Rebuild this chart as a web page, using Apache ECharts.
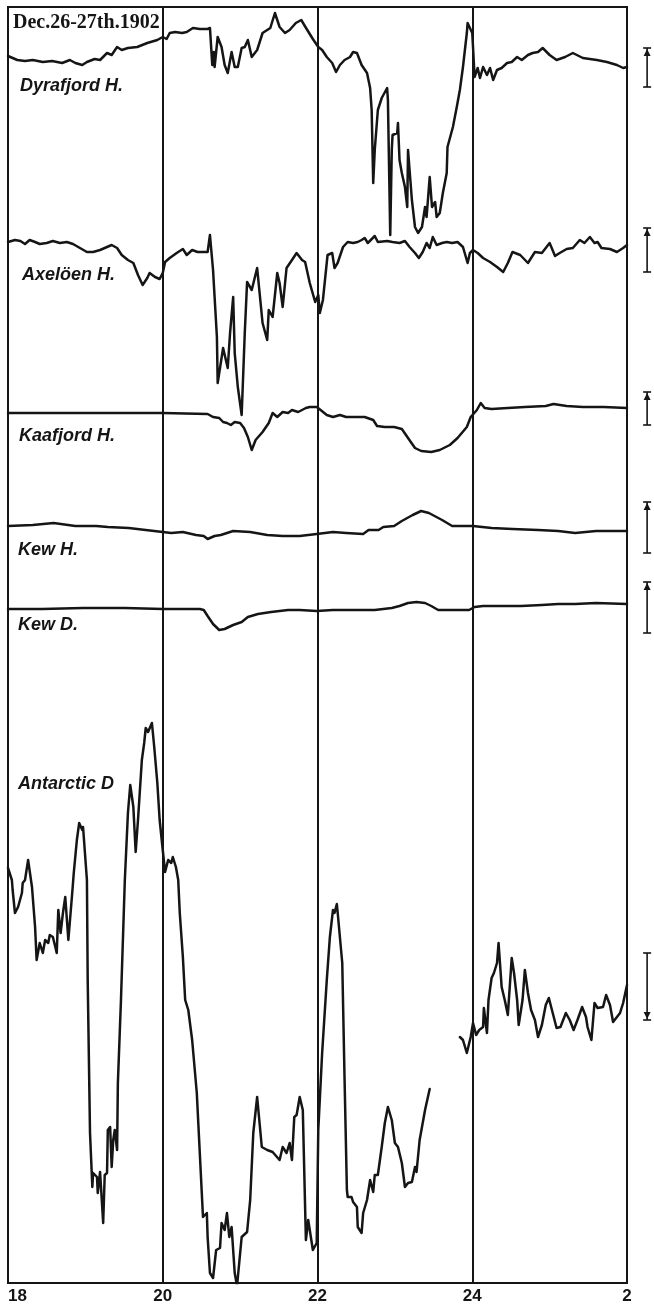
<!DOCTYPE html>
<html>
<head>
<meta charset="utf-8">
<script src="https://cdn.jsdelivr.net/npm/echarts@6/dist/echarts.min.js"></script>
<style>
html,body{margin:0;padding:0;background:#fff;}
#chart{width:654px;height:1306px;}
</style>
</head>
<body>
<div id="chart"></div>
<script>
// Time axis: hours (18 .. 26, where 26 is labelled "2")
const hourTicks = [18, 20, 22, 24, 26];
const hourLabels = ['18', '20', '22', '24', '2'];

// Trace readings: [hour, trace position in plot units (downward scale)]
const dyrafjordH = [
[18.00,56],[18.12,60],[18.22,61],[18.32,60],[18.45,62],[18.57,61],[18.70,63],[18.80,60],[18.87,63],[18.96,65],[19.02,62],[19.12,59],[19.19,60],[19.28,53],[19.34,55],[19.41,47],[19.47,50],[19.55,48],[19.67,47],[19.80,43],[19.93,40],[20.00,37],[20.05,39],[20.09,33],[20.16,32],[20.25,33],[20.31,32],[20.39,28],[20.48,29],[20.58,29],[20.61,28],[20.64,65],[20.66,52],[20.67,67],[20.71,37],[20.76,47],[20.80,65],[20.84,73],[20.89,52],[20.93,67],[20.97,67],[21.02,48],[21.06,47],[21.10,40],[21.15,57],[21.22,50],[21.29,33],[21.39,28],[21.45,13],[21.51,27],[21.58,33],[21.64,30],[21.72,23],[21.79,20],[21.86,29],[21.94,39],[22.01,47],[22.06,50],[22.12,57],[22.19,63],[22.24,72],[22.29,65],[22.35,60],[22.42,57],[22.46,52],[22.51,53],[22.57,65],[22.64,73],[22.68,88],[22.70,110],[22.72,183],[22.74,150],[22.78,110],[22.83,98],[22.90,88],[22.91,100],[22.94,235],[22.96,150],[22.97,135],[23.03,133],[23.04,123],[23.06,160],[23.09,173],[23.13,187],[23.16,207],[23.17,150],[23.22,200],[23.26,227],[23.30,233],[23.35,227],[23.39,207],[23.41,217],[23.45,177],[23.48,207],[23.52,202],[23.54,217],[23.58,213],[23.62,193],[23.67,173],[23.68,147],[23.75,127],[23.80,107],[23.84,90],[23.88,67],[23.93,33],[23.94,23],[24.00,33],[24.01,47],[24.03,77],[24.07,68],[24.10,78],[24.14,67],[24.19,75],[24.23,68],[24.27,80],[24.32,70],[24.38,68],[24.45,63],[24.51,62],[24.58,57],[24.64,60],[24.72,55],[24.78,53],[24.85,52],[24.91,48],[25.00,55],[25.09,60],[25.20,57],[25.30,53],[25.43,58],[25.61,60],[25.74,62],[25.87,65],[25.95,68],[26.00,67]
];

const axeloenH = [
[18.00,242],[18.09,240],[18.16,241],[18.22,244],[18.28,240],[18.35,242],[18.41,244],[18.50,243],[18.58,241],[18.67,243],[18.76,242],[18.84,244],[18.93,248],[19.02,252],[19.10,252],[19.19,250],[19.28,247],[19.34,245],[19.41,248],[19.47,255],[19.55,260],[19.62,263],[19.68,275],[19.74,285],[19.80,278],[19.83,273],[19.90,277],[19.96,279],[20.00,273],[20.03,262],[20.09,258],[20.18,253],[20.26,249],[20.31,255],[20.38,250],[20.45,252],[20.55,252],[20.58,252],[20.61,235],[20.65,270],[20.70,337],[20.71,383],[20.78,348],[20.84,368],[20.87,333],[20.91,297],[20.93,353],[20.97,387],[21.02,415],[21.06,333],[21.09,282],[21.15,290],[21.22,268],[21.29,323],[21.35,340],[21.37,310],[21.42,317],[21.48,273],[21.51,283],[21.55,307],[21.60,268],[21.67,260],[21.73,253],[21.80,260],[21.84,262],[21.90,283],[21.97,302],[22.01,295],[22.03,313],[22.07,300],[22.13,255],[22.19,253],[22.22,268],[22.26,263],[22.33,247],[22.39,242],[22.46,243],[22.52,242],[22.57,240],[22.61,238],[22.65,243],[22.74,236],[22.78,242],[22.90,241],[22.97,242],[23.06,243],[23.13,241],[23.19,247],[23.26,253],[23.31,258],[23.36,252],[23.41,243],[23.45,248],[23.49,237],[23.54,245],[23.61,243],[23.67,242],[23.74,243],[23.81,242],[23.88,247],[23.94,263],[23.97,253],[24.01,250],[24.07,253],[24.14,258],[24.23,262],[24.32,267],[24.40,272],[24.46,263],[24.52,252],[24.62,255],[24.72,263],[24.81,252],[24.90,253],[25.00,243],[25.07,256],[25.13,253],[25.22,249],[25.30,248],[25.39,240],[25.45,243],[25.52,237],[25.58,243],[25.62,242],[25.67,248],[25.78,249],[25.87,252],[25.95,248],[26.00,245]
];

const kaafjordH = [
[18.00,413],[18.59,413],[19.29,413],[20.00,413],[20.58,414],[20.65,417],[20.73,418],[20.78,422],[20.83,423],[20.88,425],[20.93,422],[21.00,423],[21.05,428],[21.10,437],[21.15,450],[21.20,440],[21.29,432],[21.37,423],[21.42,413],[21.48,417],[21.55,412],[21.62,413],[21.67,410],[21.75,412],[21.85,408],[21.90,407],[21.99,407],[22.04,410],[22.12,415],[22.20,417],[22.29,415],[22.37,417],[22.44,417],[22.61,417],[22.72,420],[22.77,426],[22.87,427],[22.99,427],[23.09,429],[23.17,438],[23.26,448],[23.34,451],[23.47,452],[23.58,450],[23.71,445],[23.81,438],[23.93,427],[23.98,417],[24.06,410],[24.11,403],[24.16,408],[24.25,409],[24.46,408],[24.68,407],[24.95,406],[25.05,404],[25.22,406],[25.43,407],[25.70,407],[26.00,408]
];

const kewH = [
[18.00,526],[18.32,525],[18.59,523],[18.87,526],[19.14,526],[19.29,527],[19.56,528],[19.78,530],[20.00,532],[20.11,533],[20.26,532],[20.43,535],[20.53,536],[20.58,539],[20.67,536],[20.75,535],[20.91,531],[21.13,532],[21.35,535],[21.55,536],[21.77,536],[21.99,534],[22.20,532],[22.37,533],[22.59,534],[22.66,530],[22.79,530],[22.85,527],[22.99,526],[23.09,521],[23.23,515],[23.34,511],[23.44,513],[23.61,520],[23.74,526],[23.88,526],[24.01,526],[24.25,528],[24.52,529],[24.85,530],[25.11,531],[25.33,533],[25.60,531],[26.00,531]
];

const kewD = [
[18.00,609],[18.44,609],[18.97,608],[19.51,608],[20.00,609],[20.48,609],[20.53,610],[20.58,616],[20.65,624],[20.73,630],[20.80,629],[20.91,625],[21.02,622],[21.10,617],[21.23,614],[21.40,612],[21.62,610],[21.77,610],[21.99,611],[22.20,610],[22.47,610],[22.74,610],[22.96,608],[23.06,606],[23.17,603],[23.28,602],[23.39,603],[23.47,606],[23.56,610],[23.66,610],[23.81,610],[23.96,610],[24.03,607],[24.14,606],[24.36,606],[24.63,606],[24.90,605],[25.11,604],[25.33,604],[25.60,603],[26.00,604]
];

const antarcticD1 = [
[18.00,868],[18.05,880],[18.06,890],[18.09,913],[18.13,907],[18.18,893],[18.19,883],[18.22,880],[18.26,860],[18.31,887],[18.35,927],[18.37,960],[18.41,943],[18.45,953],[18.48,940],[18.52,943],[18.54,935],[18.58,937],[18.63,953],[18.65,910],[18.68,933],[18.71,913],[18.74,897],[18.78,940],[18.83,893],[18.85,873],[18.89,840],[18.92,823],[18.96,830],[18.97,827],[19.02,880],[19.03,980],[19.06,1133],[19.09,1187],[19.10,1173],[19.15,1177],[19.16,1193],[19.19,1172],[19.23,1223],[19.25,1175],[19.28,1173],[19.29,1130],[19.32,1127],[19.34,1167],[19.36,1140],[19.38,1130],[19.41,1150],[19.42,1083],[19.46,1000],[19.51,880],[19.55,813],[19.58,785],[19.62,807],[19.65,852],[19.68,820],[19.73,760],[19.76,743],[19.78,728],[19.81,732],[19.86,723],[19.89,747],[19.93,783],[19.96,820],[20.00,850],[20.03,872],[20.07,860],[20.11,863],[20.13,857],[20.17,867],[20.20,880],[20.22,913],[20.26,957],[20.29,1000],[20.33,1010],[20.38,1040],[20.44,1093],[20.52,1217],[20.57,1213],[20.58,1237],[20.61,1273],[20.65,1278],[20.69,1250],[20.74,1248],[20.76,1223],[20.80,1230],[20.83,1213],[20.86,1237],[20.89,1227],[20.93,1273],[20.96,1286],[20.98,1286],[21.02,1237],[21.09,1232],[21.13,1200],[21.17,1133],[21.22,1097],[21.28,1147],[21.35,1150],[21.42,1152],[21.51,1160],[21.55,1147],[21.60,1153],[21.64,1143],[21.67,1160],[21.70,1117],[21.73,1115],[21.77,1097],[21.81,1110],[21.85,1240],[21.88,1220],[21.94,1250],[21.99,1243],[22.01,1130],[22.06,1053],[22.12,980],[22.16,937],[22.20,910],[22.22,913],[22.25,904],[22.26,912],[22.32,963],[22.35,1080],[22.38,1190],[22.39,1197],[22.44,1197],[22.46,1202],[22.51,1207],[22.52,1227],[22.57,1233],[22.59,1213],[22.64,1200],[22.68,1180],[22.72,1192],[22.74,1175],[22.78,1175],[22.83,1147],[22.87,1123],[22.91,1107],[22.96,1120],[23.00,1143],[23.04,1147],[23.09,1163],[23.13,1187],[23.17,1183],[23.22,1182],[23.26,1167],[23.28,1172],[23.32,1140],[23.39,1110],[23.45,1089]
];

const antarcticD2 = [
[23.84,1037],[23.88,1040],[23.93,1053],[23.98,1037],[24.01,1023],[24.05,1035],[24.09,1030],[24.14,1027],[24.15,1008],[24.19,1033],[24.21,1000],[24.25,978],[24.28,973],[24.32,963],[24.34,943],[24.38,987],[24.42,1000],[24.46,1015],[24.51,958],[24.54,973],[24.58,1000],[24.60,1025],[24.65,1000],[24.68,970],[24.72,993],[24.76,1010],[24.81,1020],[24.85,1037],[24.90,1025],[24.95,1005],[24.99,998],[25.04,1013],[25.09,1028],[25.14,1027],[25.21,1013],[25.26,1020],[25.31,1030],[25.36,1020],[25.42,1007],[25.47,1017],[25.49,1027],[25.54,1040],[25.58,1003],[25.62,1008],[25.69,1007],[25.73,995],[25.78,1005],[25.82,1022],[25.87,1017],[25.91,1013],[25.95,1003],[26.00,985]
];

// Scale bars: [top, bottom, arrow direction (1 = up at top, -1 = down at bottom)]
const scaleBars = [[48,87,1],[228,272,1],[392,425,1],[502,553,1],[582,633,1],[953,1020,-1]];

// Station labels
const stationLabels = ['Dyrafjord H.', 'Axelöen H.', 'Kaafjord H.', 'Kew H.', 'Kew D.', 'Antarctic D'];
const titleText = 'Dec.26-27th.1902';

// ---- layout / style (not data) ----
const INK = '#151515';
const SCALE_X = 26.26;
const labelPos = [[20,86],[22,275],[19,436],[18,550],[18,625],[18,784]];

const chart = echarts.init(document.getElementById('chart'), null, {renderer:'canvas'});

function traceSeries(name, data){
  return {
    name, type:'line', data, showSymbol:false, symbol:'none', sampling:null,
    smooth:false, clip:true, connectNulls:false,
    lineStyle:{color:INK, width:2.5, join:'round', cap:'round'},
    silent:true, animation:false, z:3
  };
}

function renderBar(params, api){
  const top = api.coord([api.value(0), api.value(1)]);
  const bot = api.coord([api.value(0), api.value(2)]);
  const x = top[0], yT = top[1], yB = bot[1];
  const dir = api.value(3);
  const st = {stroke:INK, lineWidth:1.6};
  const children = [
    {type:'line', shape:{x1:x,y1:yT,x2:x,y2:yB}, style:st},
    {type:'line', shape:{x1:x-4,y1:yT,x2:x+4,y2:yT}, style:st},
    {type:'line', shape:{x1:x-4,y1:yB,x2:x+4,y2:yB}, style:st}
  ];
  if (dir > 0) {
    children.push({type:'polygon', shape:{points:[[x,yT+1],[x-3.5,yT+8],[x+3.5,yT+8]]}, style:{fill:INK}});
  } else {
    children.push({type:'polygon', shape:{points:[[x,yB-1],[x-3.5,yB-8],[x+3.5,yB-8]]}, style:{fill:INK}});
  }
  return {type:'group', children};
}

const graphics = [{
  type:'text', x:13, y:23, z:10,
  style:{text:titleText, font:'bold 20px "Liberation Serif"', fill:INK,
         textVerticalAlign:'middle', verticalAlign:'middle'}
}];
stationLabels.forEach((t,i)=>{
  graphics.push({
    type:'text', x:labelPos[i][0], y:labelPos[i][1], z:10,
    style:{text:t, font:'italic bold 18px "Liberation Sans"', fill:INK,
           textVerticalAlign:'middle', verticalAlign:'middle'}
  });
});

const option = {
  animation:false,
  backgroundColor:'#fff',
  grid:{left:8, right:27, top:7, bottom:23, show:true, borderColor:INK, borderWidth:2, backgroundColor:'transparent'},
  xAxis:{
    type:'value', min:18, max:26, interval:2,
    axisLine:{show:true, lineStyle:{color:INK, width:2}},
    axisTick:{show:false},
    splitLine:{show:true, lineStyle:{color:INK, width:2}},
    axisLabel:{
      color:INK, fontFamily:'Liberation Sans', fontWeight:'bold', fontSize:17, margin:5,
      showMinLabel:true, showMaxLabel:true, alignMinLabel:'left',
      formatter:(v)=>{ const i = hourTicks.indexOf(v); return i>=0 ? hourLabels[i] : ''; }
    }
  },
  yAxis:{
    type:'value', inverse:true, min:7, max:1283,
    axisLine:{show:false}, axisTick:{show:false}, axisLabel:{show:false}, splitLine:{show:false}
  },
  series:[
    traceSeries('Dyrafjord H.', dyrafjordH),
    traceSeries('Axelöen H.', axeloenH),
    traceSeries('Kaafjord H.', kaafjordH),
    traceSeries('Kew H.', kewH),
    traceSeries('Kew D.', kewD),
    traceSeries('Antarctic D (a)', antarcticD1),
    traceSeries('Antarctic D (b)', antarcticD2),
    {
      type:'custom', name:'scale', renderItem:renderBar, clip:false, silent:true,
      encode:{x:0, y:[1,2]},
      data: scaleBars.map(b=>[SCALE_X, b[0], b[1], b[2]]), z:4
    }
  ],
  graphic: graphics
};
chart.setOption(option);
</script>
</body>
</html>
